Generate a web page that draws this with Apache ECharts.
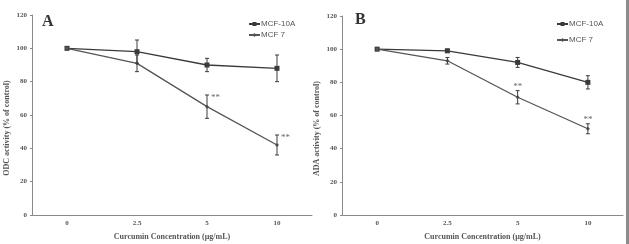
<!DOCTYPE html>
<html>
<head>
<meta charset="utf-8">
<script src="https://cdn.jsdelivr.net/npm/echarts@6/dist/echarts.min.js"></script>
<style>
  html, body { margin: 0; padding: 0; background: #fff; }
  #chart { width: 629px; height: 244px; }
</style>
</head>
<body>
<div id="chart"></div>
<script>
// concentrations (µg/mL)
const doses = ['0', '2.5', '5', '10'];

// panel A: ODC activity (% of control)
const odc10A = [100, 98, 90, 88];
const odc10AErr = [0, 7, 4, 8];
const odc7 = [100, 91, 65, 42];
const odc7Err = [0, 5, 7, 6];
const odcSig = ['', '', '**', '**'];

// panel B: ADA activity (% of control)
const ada10A = [100, 99, 92, 80];
const ada10AErr = [0, 1, 3, 4];
const ada7 = [100, 93, 71, 52];
const ada7Err = [0, 2, 4, 3];
const adaSig = ['', '', '**', '**'];

const yTicks = { min: 0, max: 120, interval: 20 };

var chartDom = document.getElementById('chart');
var myChart = echarts.init(chartDom);

const serif = 'Liberation Serif';
const axisGrey = '#8a8a8a';
const textGrey = '#555';

// error bars + significance stars, drawn from value/error arrays
const errSeries = (name, vals, errs, sig, idx, sigSide) => ({
  type: 'custom',
  name: name + ' err',
  xAxisIndex: idx,
  yAxisIndex: idx,
  z: 5,
  silent: true,
  data: vals.map((v, i) => [i, v, errs[i]]),
  renderItem: (params, api) => {
    const x = api.value(0), y = api.value(1), e = api.value(2);
    const children = [];
    const top = api.coord([x, y + e]);
    const bot = api.coord([x, y - e]);
    const st = { stroke: '#3c3c3c', lineWidth: 1 };
    if (e > 0) {
      children.push({ type: 'line', shape: { x1: top[0], y1: top[1], x2: bot[0], y2: bot[1] }, style: st });
      children.push({ type: 'line', shape: { x1: top[0] - 2, y1: top[1], x2: top[0] + 2, y2: top[1] }, style: st });
      children.push({ type: 'line', shape: { x1: bot[0] - 2, y1: bot[1], x2: bot[0] + 2, y2: bot[1] }, style: st });
    }
    const s = sig[params.dataIndex];
    if (s) {
      const tx = sigSide ? top[0] + 4 : top[0];
      const ty = sigSide ? top[1] + 3 : top[1] - 4;
      children.push({
        type: 'text',
        style: {
          x: tx, y: ty, text: s,
          font: '9px ' + serif, fill: '#666',
          align: sigSide ? 'left' : 'center', verticalAlign: 'middle'
        }
      });
    }
    return { type: 'group', children: children };
  }
});

const lineSeries = (name, vals, idx, sym, size, color) => ({
  type: 'line',
  name: name,
  xAxisIndex: idx,
  yAxisIndex: idx,
  data: vals,
  symbol: sym,
  symbolSize: size,
  showAllSymbol: true,
  lineStyle: { color: color, width: 1.3 },
  itemStyle: { color: color },
  z: 4
});

const xAx = (idx) => ({
  type: 'category',
  gridIndex: idx,
  data: doses,
  boundaryGap: true,
  name: 'Curcumin Concentration (µg/mL)',
  nameLocation: 'middle',
  nameGap: 18,
  nameTextStyle: { fontFamily: serif, fontSize: 8, fontWeight: 'bold', color: textGrey },
  axisLine: { lineStyle: { color: axisGrey, width: 1 } },
  axisTick: { length: 2, lineStyle: { color: axisGrey } },
  axisLabel: { fontFamily: serif, fontSize: 7, fontWeight: 'bold', color: textGrey, margin: 5 },
  splitLine: { show: false }
});

const yAx = (idx, name) => ({
  type: 'value',
  gridIndex: idx,
  min: yTicks.min,
  max: yTicks.max,
  interval: yTicks.interval,
  name: name,
  nameLocation: 'middle',
  nameGap: 21,
  nameTextStyle: { fontFamily: serif, fontSize: 8, fontWeight: 'bold', color: textGrey, padding: [0, 26, 0, 0] },
  axisLine: { show: true, lineStyle: { color: axisGrey, width: 1 } },
  axisTick: { show: true, length: 2, lineStyle: { color: axisGrey } },
  axisLabel: { fontFamily: serif, fontSize: 7, fontWeight: 'bold', color: textGrey, margin: 5 },
  splitLine: { show: false }
});

const legendBase = {
  orient: 'vertical',
  data: ['MCF-10A', 'MCF 7'],
  itemWidth: 11,
  itemHeight: 5,
  textStyle: { fontFamily: 'Liberation Sans', fontSize: 8, color: textGrey, padding: [0, 0, 0, -4] },
  selectedMode: false
};

let option = {
  animation: false,
  backgroundColor: '#fff',
  grid: [
    { left: 32, right: 317, top: 15, bottom: 29, outerBoundsMode: 'none' },
    { left: 342, right: 6, top: 16, bottom: 29, outerBoundsMode: 'none' }
  ],
  xAxis: [xAx(0), xAx(1)],
  yAxis: [yAx(0, 'ODC activity (% of control)'), yAx(1, 'ADA activity (% of control)')],
  legend: [
    Object.assign({}, legendBase, { left: 243, top: 15, itemGap: 3 }),
    Object.assign({}, legendBase, { left: 551, top: 15, itemGap: 8 })
  ],
  graphic: [
    { type: 'text', left: 42, top: 14, style: { text: 'A', font: 'bold 16px ' + serif, fill: '#333' } },
    { type: 'text', left: 355, top: 12, style: { text: 'B', font: 'bold 16px ' + serif, fill: '#333' } },
    { type: 'rect', shape: { x: 626, y: 0, width: 3, height: 244 }, style: { fill: '#8c8c8c' } }
  ],
  series: [
    lineSeries('MCF-10A', odc10A, 0, 'rect', 5, '#3a3a3a'),
    lineSeries('MCF 7', odc7, 0, 'diamond', 4, '#555'),
    errSeries('MCF-10A', odc10A, odc10AErr, ['', '', '', ''], 0, true),
    errSeries('MCF 7', odc7, odc7Err, odcSig, 0, true),
    lineSeries('MCF-10A', ada10A, 1, 'rect', 5, '#3a3a3a'),
    lineSeries('MCF 7', ada7, 1, 'diamond', 4, '#555'),
    errSeries('MCF-10A', ada10A, ada10AErr, ['', '', '', ''], 1, false),
    errSeries('MCF 7', ada7, ada7Err, adaSig, 1, false)
  ]
};
option && myChart.setOption(option);
</script>
</body>
</html>
